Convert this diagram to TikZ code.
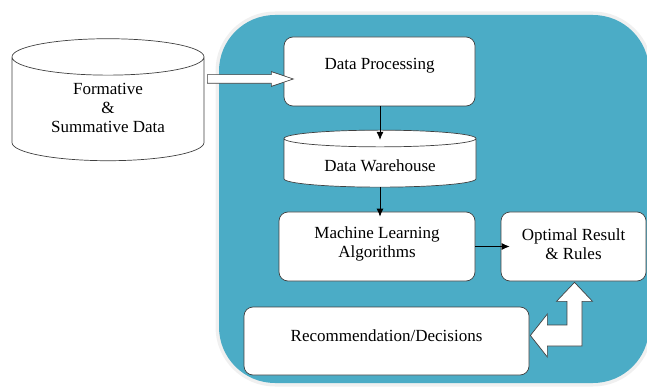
\documentclass[tikz,border=0pt]{standalone}
\usepackage{fontspec}
\setmainfont{Liberation Serif}
\usetikzlibrary{shapes.geometric,shapes.arrows,calc,arrows.meta}
\definecolor{panel}{HTML}{4BACC6}
\definecolor{edge}{HTML}{404040}

\begin{document}
\begin{tikzpicture}[
x=1pt, y=-1pt,
font=\fontsize{17}{19}\selectfont,
box/.style={
  draw=edge,
  line width=0.7pt,
  fill=white,
  rounded corners=9pt,
  align=center,
  inner sep=0pt
  },
store/.style={
  draw=edge,
  line width=0.7pt,
  fill=white,
  cylinder,
  shape border rotate=90,
  align=center,
  inner sep=0pt
  },
hollow/.style={
  draw=edge,
  line width=0.7pt,
  fill=white,
  line join=miter
  },
link/.style={
  ->,
  line width=0.8pt
  },
>={Latex[length=8pt,width=7pt]}
]
\useasboundingbox (0,0) rectangle (647,387);

% panel behind the process
\draw[line width=7pt, black!6, rounded corners=56pt] (219,15) rectangle (649,383);
\fill[panel, rounded corners=56pt] (219,15) rectangle (649,383);

\node[store, aspect=0.32, minimum width=192pt, minimum height=122pt, text height=47.6pt]
  (src) at (108,109) {Formative\\\&\\Summative Data};
\node[box, minimum width=191pt, minimum height=69pt, text height=11.5pt, text depth=15.5pt]
  (proc) at (379.5,71.5) {Data Processing};
\node[store, aspect=0.15, minimum width=192pt, minimum height=57pt, text height=20pt, text depth=3pt]
  (ware) at (380,163) {Data Warehouse};
\node[box, minimum width=196pt, minimum height=69pt, text depth=8.7pt] (learn) at (377,246.5)
  {Machine Learning\\Algorithms};
\node[box, minimum width=145pt, minimum height=69pt, text depth=4pt] (result) at (573.5,246.5)
  {Optimal Result\\\& Rules};
\node[box, minimum width=285pt, minimum height=68pt, text height=11.5pt, text depth=10.5pt]
  (decide) at (386.5,341) {Recommendation/Decisions};

% input arrow
\node[hollow, single arrow, minimum height=86pt, minimum width=14pt, inner sep=0pt,
  text height=8pt, text depth=0pt,
  single arrow head extend=3pt, single arrow tip angle=37, anchor=tail] (feed) at (207,79) {};

\draw[link, shorten >=-10pt] (proc.south -| ware.top) -- (ware.top);
\draw[link, shorten >=-5pt] (ware.bottom) -- (ware.bottom |- learn.north);
\draw[link, shorten >=-9pt] (learn.east) -- (result.west);

% two-way bent arrow
\coordinate (up) at ($(result.south)+(1,1)$);
\coordinate (lt) at ($(decide.east)+(1,-5.5)$);
\path (up) ++(0,19) coordinate (upbase) (lt) ++(17,0) coordinate (ltbase);
\draw[hollow] (up) -- ($(upbase)+(18,0)$) -- ($(upbase)+(7.5,0)$)
  -- ($(upbase |- lt)+(7.5,10.5)$) -- ($(ltbase)+(0,10.5)$) -- ($(ltbase)+(0,21.5)$)
  -- (lt) -- ($(ltbase)+(0,-21.5)$) -- ($(ltbase)+(0,-10.5)$)
  -- ($(upbase |- lt)+(-7.5,-10.5)$) -- ($(upbase)+(-7.5,0)$) -- ($(upbase)+(-18,0)$) -- cycle;
\end{tikzpicture}
\end{document}
